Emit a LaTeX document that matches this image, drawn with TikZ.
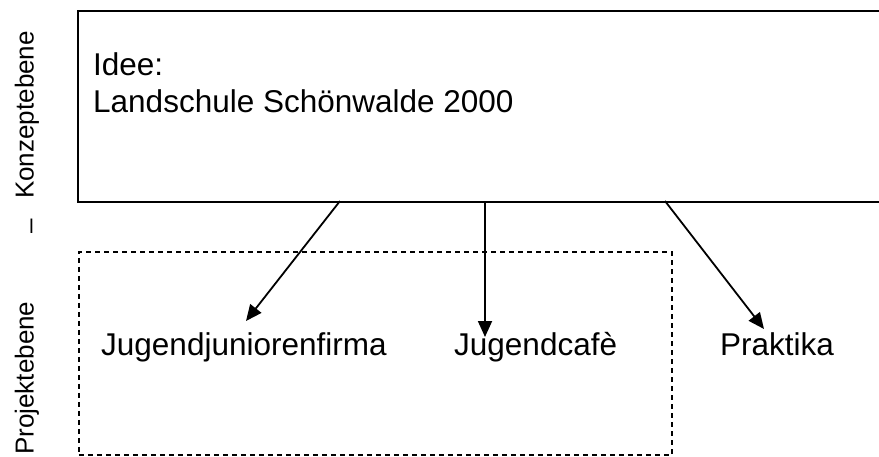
\documentclass[tikz,border=0pt]{standalone}
\usepackage{fontspec}
\setmainfont{Liberation Sans}
\usetikzlibrary{arrows.meta}
\begin{document}
\begin{tikzpicture}[x=1pt,y=-1pt,
  ideabox/.style={draw, line width=2pt, inner sep=0, anchor=north west},
  projbox/.style={draw, line width=1.7pt, dash pattern=on 5pt off 4pt, inner sep=0, anchor=north west},
  big/.style={inner sep=0, anchor=base west, font=\fontsize{31.5}{37.8}\selectfont},
  side/.style={inner sep=0, rotate=90, anchor=base west, font=\fontsize{26}{31}\selectfont},
  conn/.style={-{Triangle[length=16pt,width=14pt]}, line width=1.8pt}]
\useasboundingbox (0,0) rectangle (879,456);
\clip (0,0) rectangle (879,456);
\node[ideabox, minimum width=813pt, minimum height=191pt] (idee) at (77,10) {};
\node[projbox, minimum width=593pt, minimum height=203pt] (proj) at (78,251) {};
\node[big] (l1) at (93,75) {Idee:};
\node[big] (l2) at (93,112) {Landschule Schönwalde 2000};
\node[big] (jjf) at (101,355) {Jugendjuniorenfirma};
\node[big] (jc) at (454,355) {Jugendcafè};
\node[big] (prak) at (720,355) {Praktika};
\node[side] (konz) at (33.5,199) {Konzeptebene};
\node[side, anchor=base] (dash) at (38,226) {–};
\node[side] (projl) at (33.5,455) {Projektebene};
\coordinate (s1) at (340,201);
\coordinate (t1) at (246,321);
\coordinate (s2) at (485,201);
\coordinate (t2) at (485,337);
\coordinate (s3) at (665,201);
\coordinate (t3) at (764,329);
\draw[conn] (s1) -- (t1);
\draw[conn] (s2) -- (t2);
\draw[conn] (s3) -- (t3);
\end{tikzpicture}
\end{document}
